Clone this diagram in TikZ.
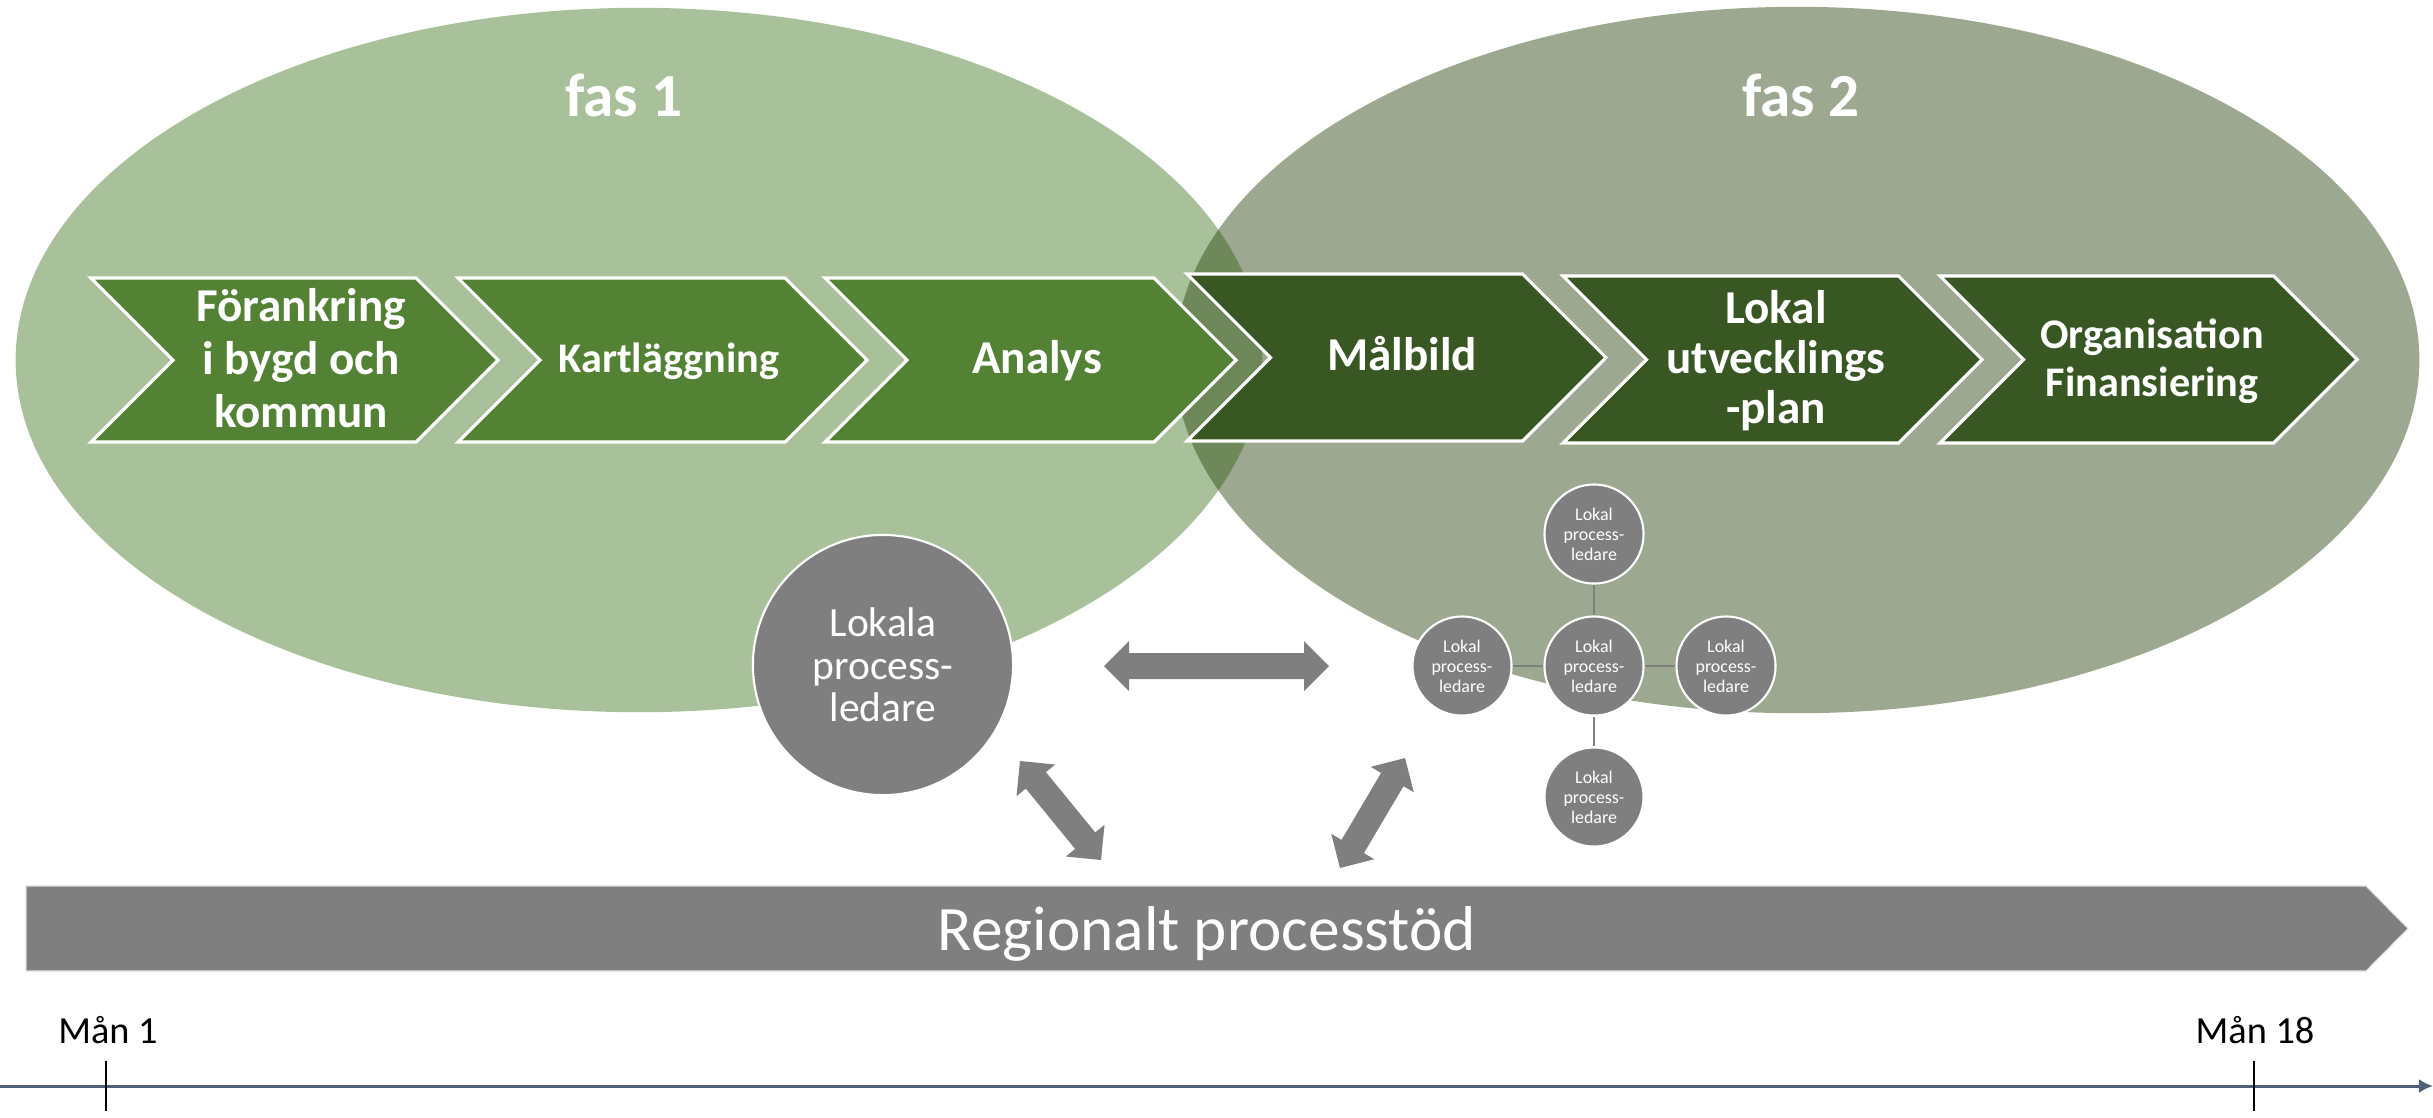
\documentclass[tikz,border=0pt]{standalone}
\usepackage{fontspec}
\setmainfont{Carlito}
\usetikzlibrary{calc,arrows.meta}
\definecolor{ellA}{RGB}{169,193,154}
\definecolor{ellB}{RGB}{44,72,18}
\definecolor{chevA}{RGB}{84,130,53}
\definecolor{chevB}{RGB}{56,87,35}
\definecolor{boxgray}{RGB}{127,127,127}
\definecolor{axisblue}{RGB}{79,96,120}

\newcommand{\chevronpath}[5]{%
  \pgfmathsetmacro{\cym}{(#2+#4)/2}%
  \pgfmathsetmacro{\cdp}{(#4-#2)/2}%
  \path[fill=#5, draw=white, line width=0.9pt, line join=miter]
    (#1,#2) -- ({#3-\cdp},#2) -- (#3,\cym) -- ({#3-\cdp},#4) -- (#1,#4) -- ({#1+\cdp},\cym) -- cycle;
}
\newcommand{\dblarrow}[2]{%
  \coordinate (da) at ($(#1)!0.25cm!(#2)$);
  \coordinate (db) at ($(#2)!0.25cm!(#1)$);
  \fill[boxgray] (#1) -- ($(da)!0.25cm!90:(#2)$) -- ($(da)!0.13cm!90:(#2)$)
    -- ($(db)!0.13cm!-90:(#1)$) -- ($(db)!0.25cm!-90:(#1)$) -- (#2)
    -- ($(db)!0.25cm!90:(#1)$) -- ($(db)!0.13cm!90:(#1)$)
    -- ($(da)!0.13cm!-90:(#2)$) -- ($(da)!0.25cm!-90:(#2)$) -- cycle;
}

\begin{document}
\begin{tikzpicture}[x=0.01cm,y=-0.01cm,
  chevtext/.style={text=white, inner sep=0pt, align=center},
  bigfont/.style={font=\bfseries\fontsize{13.4}{15.1}\selectfont},
  smallfont/.style={font=\bfseries\fontsize{12}{13.7}\selectfont},
  smallc/.style={circle, fill=boxgray, draw=white, line width=0.6pt, minimum size=0.99cm,
    inner sep=0pt, text=white, align=center, font=\fontsize{5.1}{5.7}\selectfont},
  bigc/.style={circle, fill=boxgray, draw=white, line width=0.6pt, minimum size=2.6cm,
    inner sep=0pt, text=white, align=center, font=\fontsize{11.8}{12.1}\selectfont},
  starline/.style={boxgray, line width=0.8pt}
]
\useasboundingbox (0,0) rectangle (2433,1117);
\fill[white] (0,0) rectangle (2433,1117);

% phases
\fill[ellA] (639,360) ellipse [x radius=6.23cm, y radius=3.52cm];
\fill[ellB, fill opacity=0.465] (1797,360) ellipse [x radius=6.22cm, y radius=3.53cm];

\node[chevtext, anchor=base, font=\bfseries\fontsize{17.4}{20}\selectfont] (fas1) at (624,116) {fas 1};
\node[chevtext, anchor=base, font=\bfseries\fontsize{17.4}{20}\selectfont] (fas2) at (1801,116) {fas 2};

% chevrons
\chevronpath{91}{278}{498}{442}{chevA}
\chevronpath{458}{278}{867}{442}{chevA}
\chevronpath{825}{278}{1236}{442}{chevA}
\chevronpath{1187}{274}{1606}{441}{chevB}
\chevronpath{1563}{276}{1982}{443}{chevB}
\chevronpath{1940}{276}{2357}{443}{chevB}

\node[chevtext, bigfont] (c1) at (301,358) {Förankring\\i bygd och\\kommun};
\node[chevtext, smallfont, anchor=base] (c2) at (669,372) {Kartläggning};
\node[chevtext, bigfont, anchor=base] (c3) at (1037,373) {Analys};
\node[chevtext, bigfont, anchor=base] (c4) at (1402,370) {Målbild};
\node[chevtext, font=\bfseries\fontsize{13.4}{14.2}\selectfont] (c5) at (1776,361) {Lokal\\utvecklings\\-plan};
\node[chevtext, smallfont] (c6) at (2152,361) {Organisation\\Finansiering};

% local process leaders
\node[bigc] (lead) at (883,665) {Lokala\\process-\\ledare};

\node[smallc] (pc) at (1594,666) {Lokal\\process-\\ledare};
\node[smallc] (pt) at (1594,534) {Lokal\\process-\\ledare};
\node[smallc] (pb) at (1594,797) {Lokal\\process-\\ledare};
\node[smallc] (pl) at (1462,666) {Lokal\\process-\\ledare};
\node[smallc] (pr) at (1726,666) {Lokal\\process-\\ledare};
\draw[starline] (pc) -- (pt);
\draw[starline] (pc) -- (pb);
\draw[starline] (pc) -- (pl);
\draw[starline] (pc) -- (pr);

% block arrows
\coordinate (h1) at (1104,666); \coordinate (h2) at (1329,666);
\coordinate (d1) at (1020,761); \coordinate (d2) at (1101,860);
\coordinate (e1) at (1405,758); \coordinate (e2) at (1340,868);
\dblarrow{h1}{h2}
\dblarrow{d1}{d2}
\dblarrow{e1}{e2}

% regional support bar
\path[fill=boxgray, draw=white!88!black, line width=0.3pt] (26,886) -- (2366,886) -- (2408,928.5) -- (2366,971) -- (26,971) -- cycle;
\node[anchor=base, text=white, inner sep=0pt, font=\fontsize{18}{20}\selectfont] (reg) at (1207,950) {Regionalt processtöd};

% timeline
\coordinate (tl0) at (0,1086); \coordinate (tl1) at (2433,1086);
\draw[axisblue, line width=0.85pt, -{Latex[length=4pt,width=4pt]}] (tl0) -- (tl1);
\coordinate (t1a) at (106,1061); \coordinate (t1b) at (106,1111);
\coordinate (t2a) at (2254,1061); \coordinate (t2b) at (2254,1111);
\draw[black, line width=0.45pt] (t1a) -- (t1b);
\draw[black, line width=0.45pt] (t2a) -- (t2b);
\node[anchor=base, inner sep=0pt, font=\fontsize{10.9}{13}\selectfont] (m1) at (108,1043) {Mån 1};
\node[anchor=base, inner sep=0pt, font=\fontsize{10.9}{13}\selectfont] (m18) at (2255,1043) {Mån 18};
\end{tikzpicture}
\end{document}
